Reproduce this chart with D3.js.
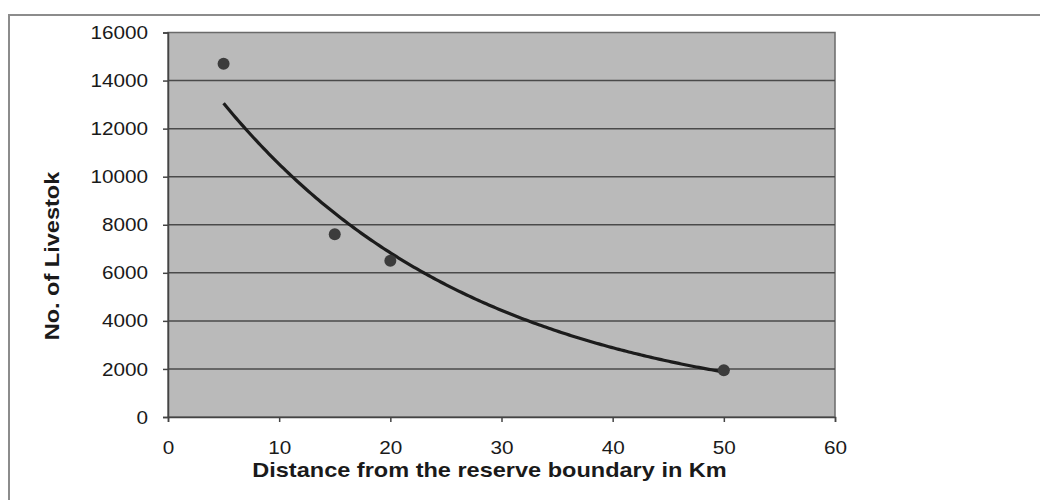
<!DOCTYPE html>
<html>
<head>
<meta charset="utf-8">
<script src="https://cdn.jsdelivr.net/npm/d3@7"></script>
<style>
  html, body { margin: 0; padding: 0; background: #ffffff; }
  svg { display: block; }
  text { font-family: "Liberation Sans", Arial, sans-serif; fill: #1a1a1a; }
</style>
</head>
<body>
<svg id="chart" width="1040" height="500"></svg>
<script>
// ---- data ----
const distanceKm = [5, 15, 20, 50];
const livestock  = [14700, 7600, 6500, 1950];
const xTicks = [0, 10, 20, 30, 40, 50, 60];
const yTicks = [0, 2000, 4000, 6000, 8000, 10000, 12000, 14000, 16000];
const xTitle = "Distance from the reserve boundary in Km";
const yTitle = "No. of Livestok";

const svg = d3.select("#chart");
const plot = { left: 168, right: 835, top: 32.5, bottom: 417 };

const x = d3.scaleLinear().domain([0, 60]).range([plot.left, plot.right]);
const y = d3.scaleLinear().domain([0, 16000]).range([plot.bottom, plot.top]);

// outer frame of the embedded chart
svg.append("rect")
  .attr("x", 9).attr("y", 15).attr("width", 1060).attr("height", 486)
  .attr("fill", "none").attr("stroke", "#8c8c8c").attr("stroke-width", 2);

// plot area
svg.append("rect")
  .attr("x", plot.left).attr("y", plot.top)
  .attr("width", plot.right - plot.left).attr("height", plot.bottom - plot.top)
  .attr("fill", "#bababa").attr("stroke", "#6a6a6a").attr("stroke-width", 1.5);

// gridlines
svg.append("g").selectAll("line")
  .data(yTicks.filter(v => v > 0 && v < 16000))
  .join("line")
  .attr("x1", plot.left).attr("x2", plot.right)
  .attr("y1", d => y(d)).attr("y2", d => y(d))
  .attr("stroke", "#4a4a4a").attr("stroke-width", 1.5);

// axes
const yAxis = svg.append("g")
  .attr("transform", `translate(${plot.left},0)`)
  .call(d3.axisLeft(y).tickValues(yTicks).tickSize(5).tickPadding(15).tickFormat(d3.format("d")));
const xAxis = svg.append("g")
  .attr("transform", `translate(0,${plot.bottom})`)
  .call(d3.axisBottom(x).tickValues(xTicks).tickSize(5).tickPadding(19).tickFormat(d3.format("d")));

[yAxis, xAxis].forEach(g => {
  g.select(".domain").attr("stroke", "#444").attr("stroke-width", 1.5);
  g.selectAll(".tick line").attr("stroke", "#444").attr("stroke-width", 1.5);
  g.selectAll(".tick text")
    .attr("fill", "#1a1a1a")
    .style("font-size", "19px")
    .style("font-family", "'Liberation Sans', Arial, sans-serif");
});

// the scanned chart is slightly widened horizontally
function stretch(sel, k) {
  sel.each(function() {
    const w = this.getComputedTextLength();
    d3.select(this).attr("textLength", w * k).attr("lengthAdjust", "spacingAndGlyphs");
  });
}
stretch(yAxis.selectAll(".tick text"), 1.09);
stretch(xAxis.selectAll(".tick text"), 1.09);

// exponential trendline (least squares on ln y, as a spreadsheet trendline does)
const lx = distanceKm, ly = livestock.map(v => Math.log(v));
const mx = d3.mean(lx), my = d3.mean(ly);
const b = d3.sum(lx.map((v, i) => (v - mx) * (ly[i] - my))) / d3.sum(lx.map(v => (v - mx) ** 2));
const a = Math.exp(my - b * mx);
const x0 = d3.min(distanceKm), x1 = d3.max(distanceKm);
const xs = d3.range(0, 201).map(i => x0 + (x1 - x0) * i / 200);

svg.append("path")
  .datum(xs)
  .attr("fill", "none")
  .attr("stroke", "#1c1c1c")
  .attr("stroke-width", 3.2)
  .attr("d", d3.line().x(d => x(d)).y(d => y(a * Math.exp(b * d))));

// data points
svg.append("g").selectAll("circle")
  .data(distanceKm.map((d, i) => ({ d, v: livestock[i] })))
  .join("circle")
  .attr("cx", p => x(p.d)).attr("cy", p => y(p.v))
  .attr("r", 6)
  .attr("fill", "#3c3c3c");

// axis titles
const xt = svg.append("text")
  .attr("x", (plot.left + plot.right) / 2 - 12)
  .attr("y", 477)
  .attr("text-anchor", "middle")
  .style("font-size", "21px").style("font-weight", "bold")
  .text(xTitle);
stretch(xt, 1.12);

const yt = svg.append("text")
  .attr("transform", `translate(59,256) rotate(-90)`)
  .attr("text-anchor", "middle")
  .style("font-size", "21px").style("font-weight", "bold")
  .text(yTitle);
stretch(yt, 1.12);
</script>
</body>
</html>
